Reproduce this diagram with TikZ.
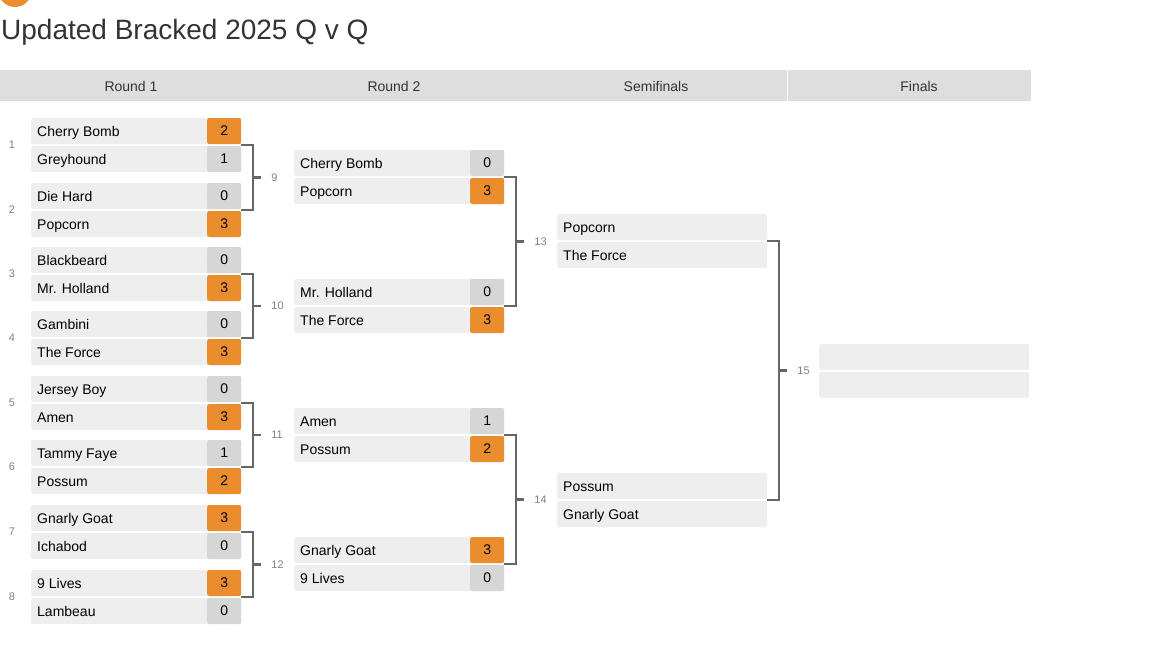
\documentclass[tikz,border=0pt]{standalone}
\usepackage{fontspec}
\setmainfont{Liberation Sans}
\usetikzlibrary{positioning}
\definecolor{rowgray}{HTML}{EEEEEE}
\definecolor{scoregray}{HTML}{D6D6D6}
\definecolor{winorange}{HTML}{E98D2F}
\definecolor{headgray}{HTML}{DEDEDE}
\definecolor{linegray}{HTML}{666666}
\definecolor{textgray}{HTML}{333333}

\tikzset{
	rowbox/.style={rectangle, fill=rowgray, rounded corners=2pt, minimum width=210pt,
		minimum height=26pt, inner sep=0pt, anchor=west, text=black},
	score/.style={rectangle, rounded corners=2pt, minimum width=34pt, minimum height=26pt,
		inner sep=0pt, anchor=east, text=black, font=\fontsize{14}{16}\selectfont},
	win/.style={score, fill=winorange},
	lose/.style={score, fill=scoregray},
	teamname/.style={anchor=base west, inner sep=0pt, font=\fontsize{14}{16}\selectfont},
	bracket/.style={draw=linegray, line width=2.2pt},
	num/.style={text=gray, font=\fontsize{11}{13}\selectfont},
	head/.style={text=textgray, font=\fontsize{14}{16}\selectfont},
}

% \match{id}{x}{ycenter}{team1}{score1}{style1}{team2}{score2}{style2}
\newcommand{\match}[9]{
	\node [rowbox] (#1a) at (#2,#3-14) {};
	\node [rowbox] (#1b) at (#2,#3+14) {};
	\node [teamname] at (#2+6,#3-9) {#4};
	\node [teamname] at (#2+6,#3+19) {#7};
	\node [#6] (#1as) at (#1a.east) {#5};
	\node [#9] (#1bs) at (#1b.east) {#8};
	\coordinate (#1) at (#2+210,#3);
}
% \pair{id}{x}{ycenter}{team1}{team2}
\newcommand{\pair}[5]{
	\node [rowbox] (#1a) at (#2,#3-14) {};
	\node [rowbox] (#1b) at (#2,#3+14) {};
	\node [teamname] at (#2+6,#3-9) {#4};
	\node [teamname] at (#2+6,#3+19) {#5};
	\coordinate (#1) at (#2+210,#3);
}
% \linkup{upper}{lower}{label}
\newcommand{\linkup}[3]{
	\draw [bracket] (#1) -- ++(12,0) |- (#2) coordinate[pos=0.25] (j#3);
	\draw [bracket] (j#3) -- ++(8,0) node [num, right=6pt] {#3};
}

\begin{document}
\begin{tikzpicture}[x=1pt, y=-1pt]
	\useasboundingbox (0,0) rectangle (1170,653);
	\begin{scope}
		\clip (0,0) rectangle (1170,653);
		\fill [winorange] (15,-10) circle (17);
	\end{scope}
	\node [anchor=west, text=textgray, font=\fontsize{28}{32}\selectfont, inner sep=0pt] (title) at (1,32) {Updated Bracked 2025 Q v Q};
	
	\fill [headgray] (0,70) rectangle (787,101);
	\fill [headgray] (788,70) rectangle (1031,101);
	\node [head] (h1) at (131,86) {Round 1};
	\node [head] (h2) at (394,86) {Round 2};
	\node [head] (h3) at (656,86) {Semifinals};
	\node [head] (h4) at (919,86) {Finals};
	
	% round 1
	\match{m1}{31}{145}{Cherry Bomb}{2}{win}{Greyhound}{1}{lose}
	\match{m2}{31}{210}{Die Hard}{0}{lose}{Popcorn}{3}{win}
	\match{m3}{31}{274}{Blackbeard}{0}{lose}{Mr. Holland}{3}{win}
	\match{m4}{31}{338}{Gambini}{0}{lose}{The Force}{3}{win}
	\match{m5}{31}{403}{Jersey Boy}{0}{lose}{Amen}{3}{win}
	\match{m6}{31}{467}{Tammy Faye}{1}{lose}{Possum}{2}{win}
	\match{m7}{31}{532}{Gnarly Goat}{3}{win}{Ichabod}{0}{lose}
	\match{m8}{31}{597}{9 Lives}{3}{win}{Lambeau}{0}{lose}
	\foreach \i/\y in {1/145,2/210,3/274,4/338,5/403,6/467,7/532,8/597}
		\node [num] (n\i) at (12,\y) {\i};
	
	% round 2
	\match{m9}{294}{177}{Cherry Bomb}{0}{lose}{Popcorn}{3}{win}
	\match{m10}{294}{306}{Mr. Holland}{0}{lose}{The Force}{3}{win}
	\match{m11}{294}{435}{Amen}{1}{lose}{Possum}{2}{win}
	\match{m12}{294}{564}{Gnarly Goat}{3}{win}{9 Lives}{0}{lose}
	
	% semifinals and finals
	\pair{m13}{557}{241}{Popcorn}{The Force}
	\pair{m14}{557}{500}{Possum}{Gnarly Goat}
	\pair{m15}{819}{371}{}{}
	
	\linkup{m1}{m2}{9}
	\linkup{m3}{m4}{10}
	\linkup{m5}{m6}{11}
	\linkup{m7}{m8}{12}
	\linkup{m9}{m10}{13}
	\linkup{m11}{m12}{14}
	\linkup{m13}{m14}{15}
\end{tikzpicture}
\end{document}
